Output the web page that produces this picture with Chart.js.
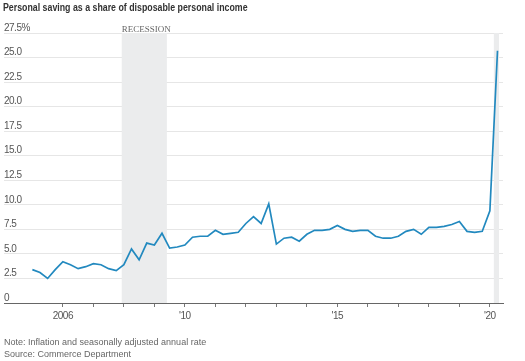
<!DOCTYPE html>
<html>
<head>
<meta charset="utf-8">
<script src="https://cdn.jsdelivr.net/npm/chart.js@4.4.1/dist/chart.umd.min.js"></script>
<style>
  body { margin: 0; background: #fff; }
  #wrap { position: relative; width: 525px; height: 361px; overflow: hidden; }
  #chart { position: absolute; left: 0; top: 0; }
  .title { position: absolute; left: 3px; top: 1px; font: bold 11px "Liberation Sans", sans-serif; line-height: 13px; color: #333; white-space: nowrap; transform: scaleX(0.8); transform-origin: 0 0; }
  .note { position: absolute; left: 4px; font: 9px "Liberation Sans", sans-serif; line-height: 11px; color: #666; white-space: nowrap; }
</style>
</head>
<body>
<div id="wrap">
  <canvas id="chart" width="525" height="361"></canvas>
  <div class="title">Personal saving as a share of disposable personal income</div>
  <div class="note" style="top:337px">Note: Inflation and seasonally adjusted annual rate</div>
  <div class="note" style="top:349px">Source: Commerce Department</div>
</div>
<script>
// quarterly
const quarters = [
  '2005Q1','2005Q2','2005Q3','2005Q4',
  '2006Q1','2006Q2','2006Q3','2006Q4',
  '2007Q1','2007Q2','2007Q3','2007Q4',
  '2008Q1','2008Q2','2008Q3','2008Q4',
  '2009Q1','2009Q2','2009Q3','2009Q4',
  '2010Q1','2010Q2','2010Q3','2010Q4',
  '2011Q1','2011Q2','2011Q3','2011Q4',
  '2012Q1','2012Q2','2012Q3','2012Q4',
  '2013Q1','2013Q2','2013Q3','2013Q4',
  '2014Q1','2014Q2','2014Q3','2014Q4',
  '2015Q1','2015Q2','2015Q3','2015Q4',
  '2016Q1','2016Q2','2016Q3','2016Q4',
  '2017Q1','2017Q2','2017Q3','2017Q4',
  '2018Q1','2018Q2','2018Q3','2018Q4',
  '2019Q1','2019Q2','2019Q3','2019Q4',
  '2020Q1','2020Q2'
];
const saving = [
  3.4, 3.1, 2.5, 3.4,
  4.2, 3.9, 3.5, 3.7,
  4.0, 3.9, 3.5, 3.3,
  3.9, 5.5, 4.4, 6.1,
  5.9, 7.1, 5.6, 5.7,
  5.9, 6.7, 6.8, 6.8,
  7.4, 7.0, 7.1, 7.2,
  8.1, 8.8, 8.1, 10.1,
  6.0, 6.6, 6.7, 6.3,
  7.0, 7.4, 7.4, 7.5,
  7.9, 7.5, 7.3, 7.4,
  7.4, 6.8, 6.6, 6.6,
  6.8, 7.3, 7.5, 7.0,
  7.7, 7.7, 7.8, 8.0,
  8.3, 7.3, 7.2, 7.3,
  9.4, 25.7
];
const yTicks = [0, 2.5, 5, 7.5, 10, 12.5, 15, 17.5, 20, 22.5, 25, 27.5];
const yTickLabels = ['0', '2.5', '5.0', '7.5', '10.0', '12.5', '15.0', '17.5', '20.0', '22.5', '25.0', '27.5%'];
const xTickYears = [2006, 2010, 2015, 2020];
const xTickLabels = ['2006', "'10", "'15", "'20"];
const recessionStart = [2007.93, 2020.13];
const recessionEnd = [2009.41, 2020.30];

const SANS = '"Liberation Sans", Arial, sans-serif';

function quarterToYear(q){
  return parseInt(q.slice(0, 4)) + (parseInt(q.slice(5)) - 1) / 4;
}

const points = quarters.map(function(q, i){
  return { x: quarterToYear(q), y: saving[i] };
});

// tighter tick text, the original uses a narrow face
const tightText = {
  id: 'tightText',
  beforeDraw(chart){ chart.ctx.letterSpacing = '-0.5px'; }
};

// grey recession bands + label, drawn under the line
const recessionPlugin = {
  id: 'recession',
  beforeDatasetsDraw(chart){
    const c = chart.ctx, area = chart.chartArea, x = chart.scales.x;
    c.save();
    c.letterSpacing = '0px';
    c.fillStyle = '#ebeced';
    for (let i = 0; i < recessionStart.length; i++) {
      const x0 = x.getPixelForValue(recessionStart[i]);
      const x1 = x.getPixelForValue(recessionEnd[i]);
      c.fillRect(x0, area.top, x1 - x0, area.bottom - area.top);
    }
    c.fillStyle = '#666';
    c.font = '9px "Liberation Serif", serif';
    c.textBaseline = 'alphabetic';
    c.fillText('RECESSION', x.getPixelForValue(recessionStart[0]), area.top - 1);
    c.restore();
  }
};

new Chart(document.getElementById('chart'), {
  type: 'line',
  data: {
    datasets: [{
      data: points,
      borderColor: '#2289bf',
      borderWidth: 1.7,
      pointRadius: 0,
      tension: 0
    }]
  },
  options: {
    responsive: false,
    animation: false,
    layout: { padding: { left: 4, right: 22, top: 33, bottom: 36 } },
    plugins: { legend: { display: false }, tooltip: { enabled: false } },
    scales: {
      x: {
        type: 'linear',
        min: 2004.07,
        max: 2020.43,
        afterBuildTicks: function(scale){
          scale.ticks = scale.ticks.filter(function(t){ return t.value >= 2006 && t.value <= 2020; });
        },
        ticks: {
          stepSize: 1,
          includeBounds: false,
          autoSkip: false,
          maxRotation: 0,
          padding: 3,
          color: '#555',
          font: { family: SANS, size: 10 },
          callback: function(v){
            const i = xTickYears.indexOf(v);
            return i < 0 ? '' : xTickLabels[i];
          }
        },
        grid: { drawOnChartArea: false, drawTicks: true, tickLength: 4, color: '#777' },
        border: { display: true, color: '#666', width: 1 }
      },
      y: {
        min: 0,
        max: 27.5,
        afterBuildTicks: function(scale){
          scale.ticks = yTicks.map(function(v){ return { value: v }; });
        },
        ticks: {
          mirror: true,
          padding: 0,
          labelOffset: -5,
          color: '#555',
          font: { family: SANS, size: 10 },
          callback: function(v){
            const i = yTicks.indexOf(v);
            return i < 0 ? '' : yTickLabels[i];
          }
        },
        grid: { color: '#e6e6e6', drawTicks: false },
        border: { display: false }
      }
    }
  },
  plugins: [tightText, recessionPlugin]
});
</script>
</body>
</html>
